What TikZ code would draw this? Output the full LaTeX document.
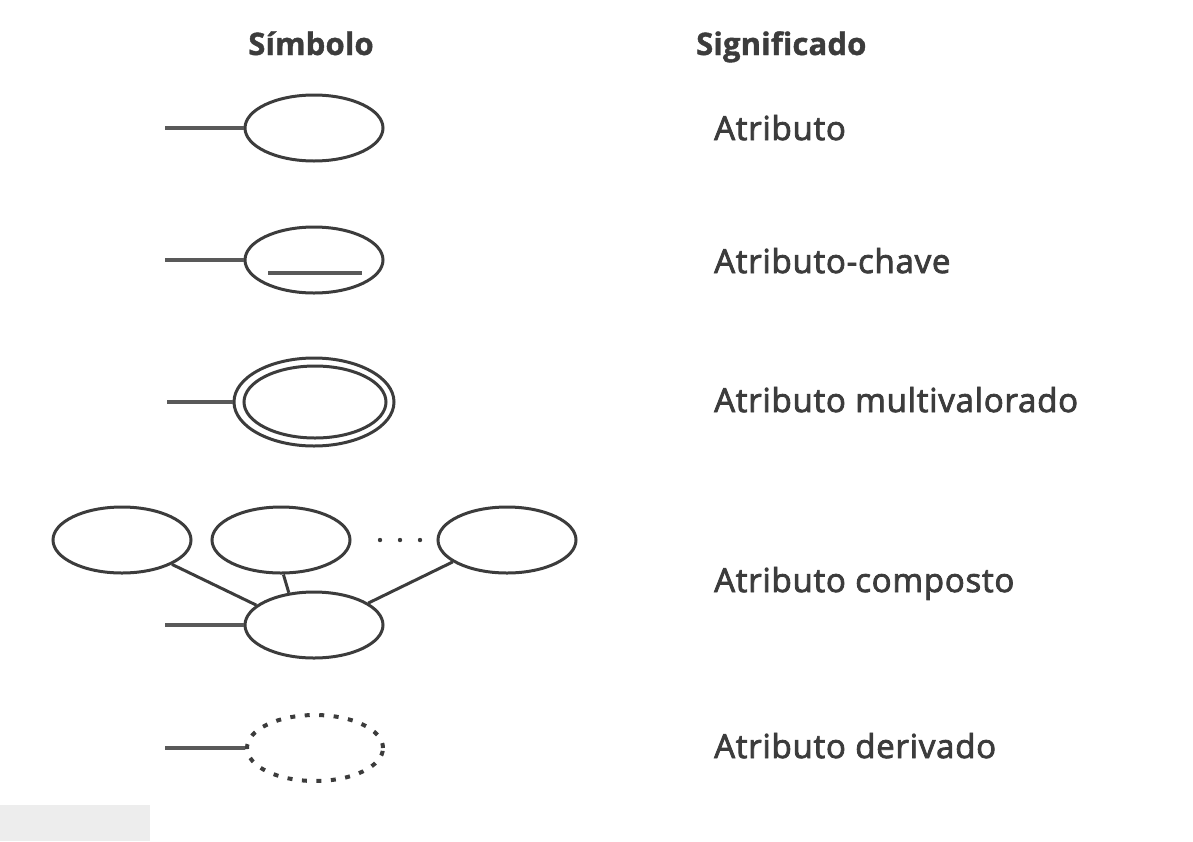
\documentclass[tikz,border=0pt]{standalone}
\usepackage{fontspec}
\setmainfont{Open Sans}
\newfontfamily\lblfont[FakeBold=2.5, LetterSpace=2.3]{Open Sans}
\newfontfamily\hdrfont[FakeBold=1.2, LetterSpace=0.5]{Open Sans}
\usetikzlibrary{shapes.geometric}
\definecolor{ink}{HTML}{3C3C3C}
\definecolor{lnc}{HTML}{595959}
\tikzset{
  ell/.style={ellipse, draw=ink, line width=3pt, minimum width=138pt, minimum height=66pt, inner sep=0pt},
  stub/.style={draw=lnc, line width=3.4pt},
  conn/.style={draw=ink, line width=3pt},
  lbl/.style={anchor=base west, text=ink, font=\lblfont\fontsize{33}{38}\selectfont, inner sep=0pt},
  hdr/.style={text=ink, anchor=base, font=\hdrfont\fontsize{31}{36}\selectfont\bfseries, inner sep=0pt}
}
\begin{document}
\begin{tikzpicture}[x=1pt,y=-1pt]
\useasboundingbox (0,0) rectangle (1193,841);
\fill[fill=black!7] (0,805) rectangle (150,841);
% headers
\node[hdr] (h1) at (311,55) {Símbolo};
\node[hdr, anchor=base west] (h2) at (696,55) {Significado};
% row 1
\node[ell] (a1) at (314,128) {};
\coordinate (s1) at (165,128);
\draw[stub] (s1) -- (a1.west);
\node[lbl] (t1) at (714,140) {Atributo};
% row 2
\node[ell] (a2) at (314,260) {};
\coordinate (s2) at (165,260);
\draw[stub] (s2) -- (a2.west);
\coordinate (u1) at (268,273);
\coordinate (u2) at (362,273);
\draw[stub, line width=3.8pt] (u1) -- (u2);
\node[lbl] (t2) at (714,273) {Atributo-chave};
% row 3
\node[ell, minimum width=160pt, minimum height=88pt] (a3) at (314,402) {};
\node[ell, minimum width=142pt, minimum height=72pt] (a3i) at (315,402) {};
\coordinate (s3) at (167,402);
\draw[stub] (s3) -- (a3.west);
\node[lbl] (t3) at (714,412) {Atributo multivalorado};
% row 4
\node[ell] (c1) at (122,540) {};
\node[ell] (c2) at (281,540) {};
\node[ell] (c3) at (507,540) {};
\node[ell] (c0) at (314,625) {};
\coordinate (s4) at (165,625);
\draw[stub] (s4) -- (c0.west);
\draw[conn] (c1.-26) -- (c0.161);
\draw[conn] (c2.-86) -- (c0.128);
\draw[conn] (c3.-158) -- (c0.22);
\fill[ink] (380,540) circle (2.2pt) (400,540) circle (2.2pt) (420,540) circle (2.2pt);
\node[lbl] (t4) at (714,592) {Atributo composto};
% row 5
\node[ell, draw=none] (d1) at (315,748) {};
\draw[draw=ink, line width=4pt, dash pattern=on 5pt off 9.5pt] (315,748) ellipse [x radius=68pt, y radius=33pt];
\coordinate (s5) at (165,748);
\draw[stub] (s5) -- (d1.west);
\node[lbl] (t5) at (714,758) {Atributo derivado};
\end{tikzpicture}
\end{document}
